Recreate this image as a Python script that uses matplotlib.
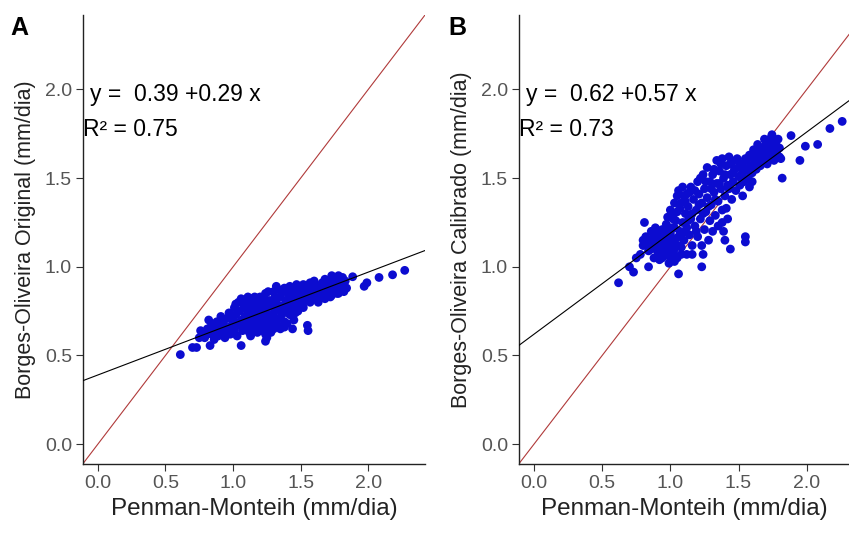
import matplotlib.pyplot as plt
import numpy as np

plt.rcParams['font.family'] = ['Liberation Sans', 'DejaVu Sans']

# Penman-Monteith (x) vs Borges-Oliveira original (y)
pts_orig = np.array([
    (0.61, 0.505), (0.70, 0.545), (0.73, 0.545), (0.83, 0.556), (1.06, 0.556), (1.24, 0.58), (1.25, 0.60),
    (0.75, 0.60), (0.76, 0.64), (0.78, 0.62), (0.79, 0.60), (0.81, 0.65), (0.82, 0.70), (0.84, 0.62),
    (0.85, 0.67), (0.86, 0.59), (0.87, 0.64), (0.88, 0.69), (0.89, 0.61), (0.90, 0.66), (0.91, 0.72),
    (0.92, 0.63), (0.93, 0.68), (0.94, 0.60), (0.95, 0.65), (0.96, 0.71), (0.97, 0.74), (0.98, 0.62),
    (0.99, 0.67), (1.00, 0.70), (1.01, 0.77), (1.01, 0.64), (1.02, 0.73), (1.03, 0.61), (1.04, 0.80),
    (1.04, 0.67), (1.05, 0.75), (1.06, 0.70), (1.07, 0.81), (1.07, 0.64), (1.08, 0.77), (1.09, 0.72),
    (1.10, 0.68), (1.10, 0.80), (1.11, 0.75), (1.12, 0.63), (1.12, 0.71), (1.13, 0.78), (1.14, 0.82),
    (1.14, 0.67), (1.15, 0.74), (1.16, 0.70), (1.17, 0.79), (1.17, 0.65), (1.18, 0.76), (1.19, 0.72),
    (1.20, 0.83), (1.20, 0.68), (1.21, 0.75), (1.22, 0.79), (1.22, 0.64), (1.23, 0.71), (1.24, 0.85),
    (1.25, 0.77), (1.25, 0.67), (1.26, 0.73), (1.27, 0.81), (1.28, 0.70), (1.28, 0.63), (1.29, 0.78),
    (1.30, 0.86), (1.30, 0.74), (1.31, 0.68), (1.32, 0.89), (1.32, 0.80), (1.33, 0.76), (1.34, 0.71),
    (1.35, 0.83), (1.35, 0.65), (1.36, 0.78), (1.37, 0.86), (1.37, 0.74), (1.38, 0.69), (1.39, 0.81),
    (1.40, 0.77), (1.40, 0.68), (1.41, 0.84), (1.42, 0.73), (1.43, 0.80), (1.43, 0.87), (1.44, 0.76),
    (1.45, 0.83), (1.45, 0.70), (1.46, 0.79), (1.47, 0.86), (1.48, 0.75), (1.48, 0.82), (1.49, 0.88),
    (1.50, 0.79), (1.51, 0.84), (1.52, 0.77), (1.53, 0.87), (1.54, 0.81), (1.55, 0.67), (1.555, 0.64),
    (1.55, 0.85), (1.56, 0.89), (1.57, 0.80), (1.58, 0.84), (1.59, 0.87), (1.60, 0.82), (1.61, 0.90),
    (1.62, 0.85), (1.63, 0.80), (1.64, 0.88), (1.65, 0.84), (1.66, 0.91), (1.67, 0.86), (1.68, 0.93),
    (1.68, 0.82), (1.69, 0.89), (1.70, 0.85), (1.71, 0.92), (1.72, 0.88), (1.73, 0.95), (1.73, 0.84),
    (1.74, 0.90), (1.75, 0.87), (1.76, 0.93), (1.77, 0.89), (1.78, 0.95), (1.78, 0.85), (1.79, 0.91),
    (1.80, 0.88), (1.81, 0.94), (1.82, 0.90), (1.82, 0.86), (1.83, 0.92), (1.84, 0.88), (1.44, 0.65),
    (1.02, 0.79), (1.06, 0.82), (1.09, 0.66), (1.11, 0.83), (1.13, 0.61), (1.16, 0.83), (1.19, 0.80),
    (1.21, 0.70), (1.23, 0.82), (1.26, 0.86), (1.27, 0.66), (1.29, 0.72), (1.31, 0.83), (1.33, 0.67),
    (1.34, 0.87), (1.36, 0.73), (1.38, 0.88), (1.39, 0.75), (1.41, 0.79), (1.42, 0.89), (1.44, 0.82),
    (1.46, 0.74), (1.47, 0.90), (1.49, 0.80), (1.50, 0.86), (1.51, 0.78), (1.52, 0.90), (1.54, 0.84),
    (1.56, 0.81), (1.57, 0.91), (1.59, 0.83), (1.60, 0.92), (1.62, 0.88), (1.64, 0.83), (1.66, 0.87),
    (1.70, 0.91), (1.72, 0.83), (1.75, 0.94), (1.77, 0.85), (1.80, 0.92), (0.92, 0.70), (0.95, 0.62),
    (0.98, 0.72), (1.00, 0.63), (0.86, 0.63), (0.80, 0.63), (0.84, 0.68), (1.18, 0.63), (1.24, 0.62),
    (1.30, 0.65), (1.38, 0.66),
    (1.885, 0.944), (1.97, 0.89), (1.99, 0.91), (2.08, 0.94), (2.18, 0.955), (2.27, 0.98),
])

# Penman-Monteith (x) vs Borges-Oliveira calibrado (y)
pts_cal = np.array([
    (0.62, 0.91), (0.70, 1.00), (0.73, 0.97), (0.75, 1.05), (0.84, 1.00), (1.06, 0.96), (1.23, 1.00),
    (1.24, 1.07), (1.16, 1.07), (1.44, 1.10), (1.55, 1.17), (1.55, 1.14), (1.82, 1.50), (1.95, 1.60),
    (1.99, 1.68), (2.08, 1.69), (2.17, 1.78), (2.26, 1.82), (1.885, 1.74), (1.745, 1.745), (0.81, 1.25),
    (0.78, 1.07), (0.80, 1.12), (0.82, 1.17), (0.84, 1.09), (0.86, 1.20), (0.87, 1.14), (0.88, 1.05),
    (0.89, 1.22), (0.90, 1.10), (0.91, 1.17), (0.92, 1.04), (0.93, 1.13), (0.94, 1.21), (0.95, 1.08),
    (0.96, 1.16), (0.97, 1.24), (0.98, 1.11), (0.99, 1.06), (1.00, 1.19), (1.01, 1.13), (1.02, 1.27),
    (1.02, 1.08), (1.03, 1.22), (1.04, 1.16), (1.05, 1.31), (1.05, 1.05), (1.06, 1.43), (1.07, 1.20),
    (1.08, 1.36), (1.08, 1.11), (1.09, 1.25), (1.10, 1.40), (1.10, 1.15), (1.11, 1.30), (1.12, 1.07),
    (1.12, 1.22), (1.13, 1.34), (1.14, 1.18), (1.15, 1.45), (1.15, 1.27), (1.16, 1.12), (1.17, 1.38),
    (1.18, 1.23), (1.19, 1.32), (1.20, 1.17), (1.20, 1.48), (1.21, 1.41), (1.22, 1.27), (1.23, 1.36),
    (1.23, 1.12), (1.24, 1.52), (1.25, 1.44), (1.25, 1.21), (1.26, 1.31), (1.27, 1.56), (1.27, 1.39),
    (1.28, 1.15), (1.29, 1.48), (1.29, 1.26), (1.30, 1.35), (1.31, 1.52), (1.31, 1.20), (1.32, 1.42),
    (1.33, 1.29), (1.34, 1.47), (1.34, 1.60), (1.35, 1.37), (1.35, 1.23), (1.36, 1.54), (1.37, 1.44),
    (1.38, 1.61), (1.38, 1.32), (1.39, 1.50), (1.39, 1.20), (1.40, 1.40), (1.41, 1.57), (1.42, 1.46),
    (1.42, 1.27), (1.43, 1.62), (1.44, 1.52), (1.45, 1.38), (1.45, 1.59), (1.46, 1.48), (1.47, 1.55),
    (1.48, 1.43), (1.49, 1.61), (1.50, 1.51), (1.51, 1.46), (1.52, 1.58), (1.53, 1.53), (1.54, 1.48),
    (1.55, 1.61), (1.56, 1.55), (1.57, 1.50), (1.58, 1.63), (1.59, 1.57), (1.60, 1.53), (1.61, 1.66),
    (1.62, 1.60), (1.63, 1.55), (1.64, 1.69), (1.65, 1.62), (1.66, 1.57), (1.67, 1.67), (1.68, 1.60),
    (1.69, 1.72), (1.70, 1.64), (1.71, 1.58), (1.72, 1.69), (1.73, 1.62), (1.74, 1.73), (1.75, 1.66),
    (1.76, 1.60), (1.77, 1.70), (1.78, 1.64), (1.79, 1.72), (1.80, 1.67), (1.81, 1.61), (1.58, 1.45),
    (1.60, 1.48), (1.53, 1.40), (1.38, 1.25), (1.40, 1.15),
    (0.85, 1.15), (0.88, 1.18), (0.90, 1.14), (0.92, 1.20), (0.95, 1.12), (0.97, 1.19), (0.99, 1.15),
    (1.01, 1.22), (1.03, 1.10), (1.04, 1.26), (1.06, 1.17), (1.07, 1.33), (1.09, 1.19), (1.11, 1.37),
    (1.13, 1.26), (1.14, 1.42), (1.16, 1.30), (1.18, 1.43), (1.19, 1.20), (1.21, 1.35), (1.22, 1.50),
    (1.24, 1.30), (1.26, 1.48), (1.28, 1.34), (1.30, 1.44), (1.32, 1.55), (1.33, 1.38), (1.36, 1.47),
    (1.37, 1.58), (1.40, 1.52), (1.41, 1.33), (1.43, 1.44), (1.44, 1.58), (1.46, 1.53), (1.48, 1.60),
    (1.50, 1.56), (1.52, 1.50), (1.54, 1.56), (1.56, 1.60), (1.58, 1.54), (1.60, 1.62), (1.62, 1.56),
    (1.64, 1.63), (1.66, 1.66), (1.68, 1.65), (1.70, 1.69), (1.72, 1.65), (1.74, 1.68), (1.76, 1.72),
    (1.78, 1.68), (1.80, 1.62),
    (0.80, 1.15), (0.83, 1.12), (0.86, 1.10), (0.89, 1.13), (0.91, 1.08), (0.93, 1.18), (0.96, 1.10),
    (0.98, 1.20), (1.00, 1.09), (1.02, 1.14), (1.04, 1.06), (1.06, 1.12), (1.08, 1.07), (1.03, 1.03),
    (0.94, 1.05), (0.99, 1.02), (1.00, 1.32), (1.03, 1.36), (1.05, 1.40), (1.09, 1.45), (1.12, 1.41),
    (1.02, 1.29), (0.98, 1.28),
])

# fitted coefficients (intercept, slope) and R2 as printed on the chart
fit_orig = (0.39, 0.29)
fit_cal = (0.62, 0.57)
r2_orig = '0.75'
r2_cal = '0.73'

ticks = [0.0, 0.5, 1.0, 1.5, 2.0]

fig = plt.figure(figsize=(8.49, 5.33), dpi=100)
ax_a = fig.add_axes([83/849, 69/533, 342/849, 449/533])
ax_b = fig.add_axes([519/849, 69/533, 330/849, 449/533])

panels = [
    (ax_a, pts_orig, fit_orig, r2_orig, 'A', 'Borges-Oliveira Original (mm/dia)', 2.42),
    (ax_b, pts_cal, fit_cal, r2_cal, 'B', 'Borges-Oliveira Calibrado (mm/dia)', 2.31),
]

for ax, pts, fit, r2, tag, ylab, xmax in panels:
    xs = np.array([-0.11, xmax])
    ax.plot(xs, xs, color='#b03a3a', lw=0.8, zorder=1)
    ax.plot(xs, fit[0] + fit[1]*xs, color='black', lw=0.8, zorder=3)
    ax.scatter(pts[:, 0], pts[:, 1], s=40, color='#0c0cd0', edgecolors='none', zorder=2)

    ax.set_xlim(-0.11, xmax)
    ax.set_ylim(-0.112, 2.42)
    ax.set_xticks(ticks)
    ax.set_yticks(ticks)
    ax.set_xticklabels(['%.1f' % t for t in ticks])
    ax.set_yticklabels(['%.1f' % t for t in ticks])
    ax.tick_params(labelsize=14, colors='#333333', labelcolor='#555555', length=5, width=0.8, pad=3)
    for side in ['top', 'right']:
        ax.spines[side].set_visible(False)
    for side in ['left', 'bottom']:
        ax.spines[side].set_linewidth(1.0)
        ax.spines[side].set_color('#222222')

    ax.set_xlabel('Penman-Monteih (mm/dia)', fontsize=17.5, color='#222222', labelpad=4)
    ax.set_ylabel(ylab, fontsize=15.5, color='#222222', labelpad=6)

    ax.text(-0.06, 1.97, 'y =  %.2f +%.2f x' % fit, fontsize=16.5, ha='left', va='center')
    ax.text(-0.108, 1.775, 'R² = ' + r2, fontsize=16.5, ha='left', va='center')

fig.text(10/849, 1 - 28/533, 'A', fontsize=18, fontweight='bold', va='center', ha='left')
fig.text(448/849, 1 - 28/533, 'B', fontsize=18, fontweight='bold', va='center', ha='left')

fig.savefig('out.png', dpi=100)
